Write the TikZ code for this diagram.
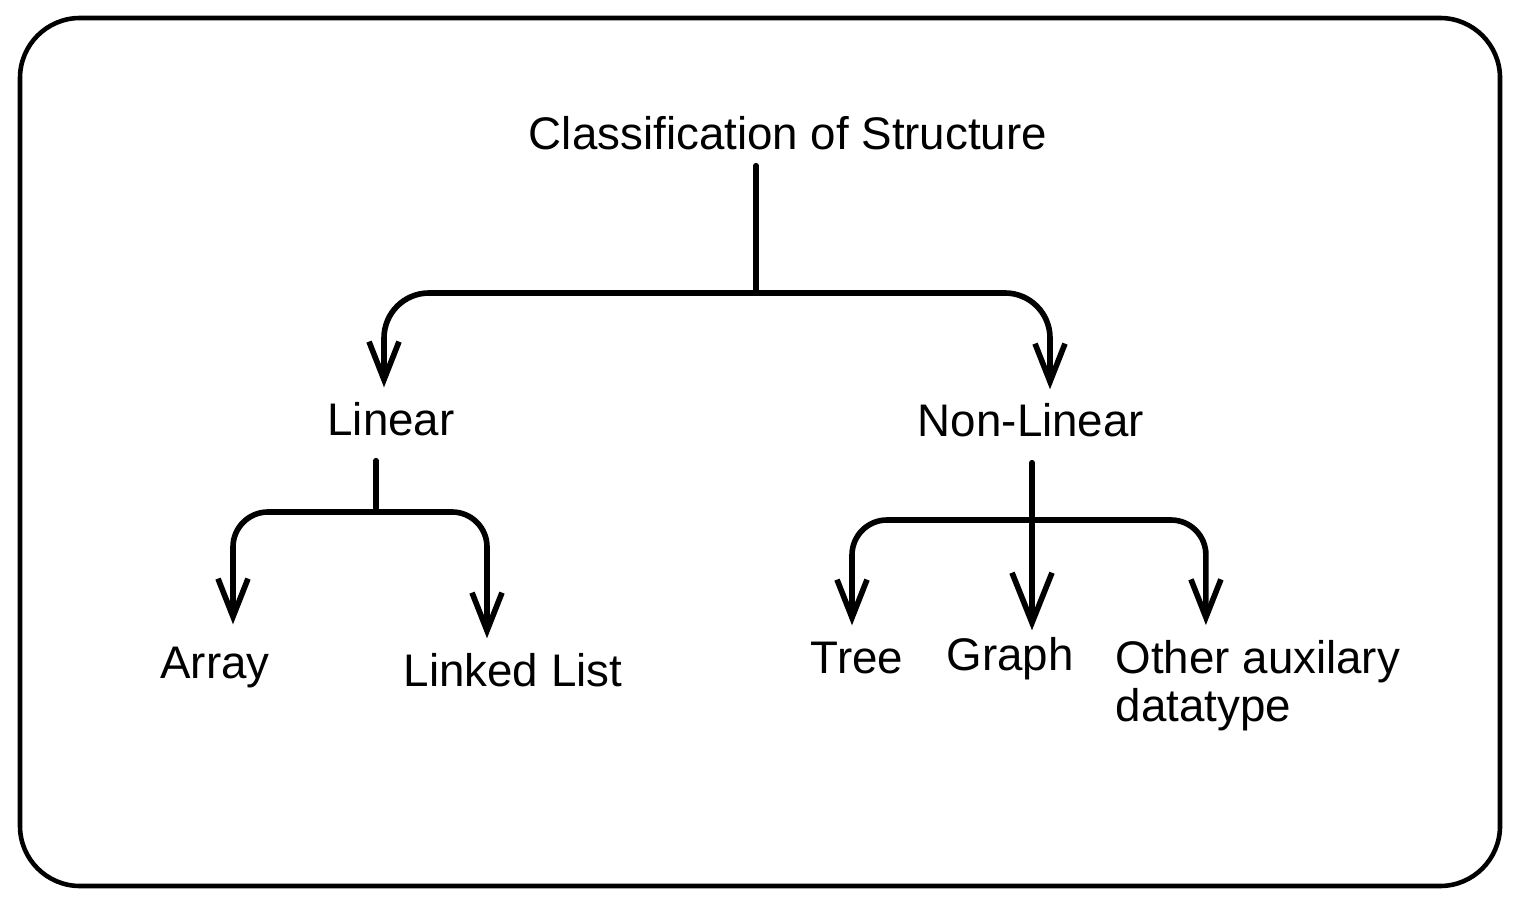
\documentclass[tikz,border=0pt]{standalone}
\usepackage{fontspec}
\setmainfont{Liberation Sans}
\usetikzlibrary{arrows.meta}
\begin{document}
\begin{tikzpicture}[
        label/.style = {anchor = base, inner xsep = 0.1cm, inner ysep = 0.15cm, text height = 0.32cm, text depth = 0.1cm, font = \fontsize{13}{14}\selectfont},
        link/.style = {line width = 1.6pt, line cap = round},
        arr/.style = {link, -{Straight Barb[length = 3.8mm, width = 3mm]}},
        bigarr/.style = {link, -{Straight Barb[length = 5mm, width = 4mm]}}
    ]
    \useasboundingbox (0,0) rectangle (15.19,-9.07);
    \draw[line width = 1.3pt, rounded corners = 0.6cm] (0.2,-0.18) rectangle (15.0,-8.86);
    % nodes
    \node[label] (root) at (7.88,-1.50) {Classification of Structure};
    \node[label] (linear) at (3.91,-4.35) {Linear};
    \node[label] (nonlin) at (10.31,-4.37) {Non-Linear};
    \node[label] (array) at (2.15,-6.78) {Array};
    \node[label] (linked) at (5.13,-6.86) {Linked List};
    \node[label] (tree) at (8.57,-6.73) {Tree};
    \node[label] (graph) at (10.10,-6.70) {Graph};
    \node[anchor = north west, inner sep = 0.15cm, align = left, font = \fontsize{13}{13.6}\selectfont] (other) at (11.0,-6.25) {Other auxilary\\datatype};
    % junctions
    \coordinate (rj) at (7.56,-2.93);
    \coordinate (lj) at (3.76,-5.12);
    \coordinate (nj) at (10.32,-5.20);
    % links
    \draw[link] ([yshift = 0.1cm]root.south -| rj) -- (rj);
    \draw[arr, rounded corners = 0.45cm] (rj) -| ([xshift = -0.07cm]linear.north);
    \draw[arr, rounded corners = 0.45cm] (rj) -| ([xshift = 0.19cm]nonlin.north);
    \draw[link] (linear.south -| lj) -- (lj);
    \draw[arr, rounded corners = 0.35cm] (lj) -| ([xshift = 0.18cm, yshift = 0.06cm]array.north);
    \draw[arr, rounded corners = 0.35cm] (lj) -| ([xshift = -0.26cm]linked.north);
    \draw[bigarr] (nonlin.south -| nj) -- ([yshift = -0.08cm]graph.north -| nj);
    \draw[arr, rounded corners = 0.35cm] (nj) -| ([xshift = -0.05cm]tree.north);
    \draw[arr, rounded corners = 0.35cm] (nj) -| ([xshift = -0.52cm]other.north);
\end{tikzpicture}
\end{document}
